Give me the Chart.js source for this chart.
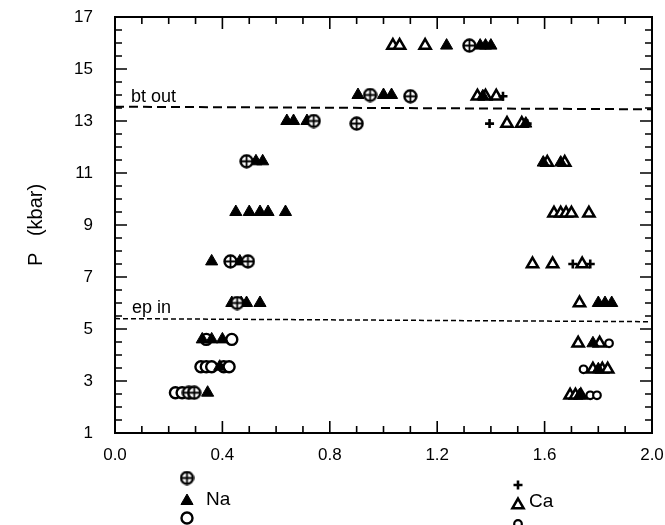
<!DOCTYPE html>
<html>
<head>
<meta charset="utf-8">
<script src="https://cdn.jsdelivr.net/npm/chart.js@4.4.1/dist/chart.umd.min.js"></script>
<style>
  html, body { margin: 0; background: #fff; }
  #wrap { width: 665px; height: 525px; }
</style>
</head>
<body>
<div id="wrap"><canvas id="chart"></canvas></div>
<script>
// ---- data: [x, P(kbar)] ----
const naCirclePlus = [[1.32, 15.9], [0.95, 14.0], [1.10, 13.95], [0.74, 13.0], [0.90, 12.9],
  [0.49, 11.45], [0.43, 7.6], [0.495, 7.6], [0.455, 6.0], [0.275, 2.55], [0.295, 2.55]]
const naTriangle = [
  [1.235, 15.9], [1.36, 15.9], [1.38, 15.9], [1.40, 15.9],
  [0.905, 14.0], [1.0, 14.0], [1.03, 14.0],
  [0.64, 13.0], [0.665, 13.0], [0.715, 13.0],
  [0.525, 11.45], [0.55, 11.45],
  [0.45, 9.5], [0.50, 9.5], [0.54, 9.5], [0.57, 9.5], [0.635, 9.5],
  [0.36, 7.6], [0.465, 7.6],
  [0.435, 6.0], [0.47, 6.0], [0.49, 6.0], [0.54, 6.0],
  [0.325, 4.6], [0.36, 4.6], [0.40, 4.6],
  [0.39, 3.55], [0.345, 2.55],
  [1.37, 13.95], [1.53, 12.9], [1.595, 11.4], [1.66, 11.4],
  [1.80, 6.0], [1.825, 6.0], [1.85, 6.0], [1.78, 4.45], [1.80, 3.45], [1.73, 2.45]
]
const naCircle = [[0.34, 4.6], [0.435, 4.6], [0.32, 3.55], [0.34, 3.55], [0.36, 3.55],
  [0.405, 3.55], [0.425, 3.55], [0.225, 2.55], [0.25, 2.55]]
const caPlus = [[1.445, 13.95], [1.395, 12.9], [1.535, 12.9], [1.705, 7.5], [1.77, 7.5]]
const caTriangle = [
  [1.035, 15.9], [1.06, 15.9], [1.155, 15.9],
  [1.35, 13.95], [1.38, 13.95], [1.42, 13.95],
  [1.46, 12.9], [1.515, 12.9],
  [1.61, 11.4], [1.675, 11.4],
  [1.635, 9.45], [1.66, 9.45], [1.68, 9.45], [1.70, 9.45], [1.765, 9.45],
  [1.555, 7.5], [1.63, 7.5], [1.74, 7.5],
  [1.73, 6.0],
  [1.725, 4.45], [1.805, 4.45],
  [1.78, 3.45], [1.815, 3.45], [1.835, 3.45],
  [1.695, 2.45], [1.715, 2.45], [1.735, 2.45]
]
const caCircle = [[1.84, 4.45], [1.745, 3.45], [1.77, 2.45], [1.795, 2.45]]

// boundary lines
const btOut = [[0, 13.55], [2, 13.45]]
const epIn = [[0, 5.4], [2, 5.28]]
const boundaryLabels = ['bt out', 'ep in']

// axes
const xRange = [0, 2]
const yRange = [1, 17]
const xMajorStep = 0.4
const xMinorStep = 0.1
const yMajorStep = 2
const yMinorStep = 0.5

const FONT = "'Liberation Sans', Arial, sans-serif"
const pts = arr => arr.map(([x, y]) => ({ x, y }))

// circle with a cross inside
function circlePlusImage() {
  const c = document.createElement('canvas')
  c.width = 15
  c.height = 15
  const g = c.getContext('2d')
  g.fillStyle = '#fff'
  g.strokeStyle = '#000'
  g.lineWidth = 2.4
  g.beginPath()
  g.arc(7.5, 7.5, 6, 0, Math.PI * 2)
  g.fill()
  g.stroke()
  g.lineWidth = 1.8
  g.beginPath()
  g.moveTo(2, 7.5); g.lineTo(13, 7.5)
  g.moveTo(7.5, 2); g.lineTo(7.5, 13)
  g.stroke()
  return c
}
const circlePlus = circlePlusImage()

const markerStyles = {
  circlePlus: { pointStyle: circlePlus, radius: 7, borderWidth: 0, fill: '#000' },
  triangle: { pointStyle: 'triangle', radius: 7, borderWidth: 1, fill: '#000' },
  circle: { pointStyle: 'circle', radius: 5.5, borderWidth: 2.4, fill: '#fff' },
  plus: { pointStyle: 'cross', radius: 4.5, borderWidth: 2.6, fill: '#000' },
  openTriangle: { pointStyle: 'triangle', radius: 6.5, borderWidth: 2.5, fill: '#fff' },
  smallCircle: { pointStyle: 'circle', radius: 3.8, borderWidth: 2.2, fill: '#fff' }
}

function scatterSet(label, data, style) {
  const s = markerStyles[style]
  return {
    label,
    data: pts(data),
    pointStyle: s.pointStyle,
    pointRadius: s.radius,
    pointBorderWidth: s.borderWidth,
    pointBackgroundColor: s.fill,
    pointBorderColor: '#000',
    showLine: false
  }
}

function lineSet(label, data, dash, width) {
  return {
    label,
    type: 'line',
    data: pts(data),
    borderColor: '#000',
    borderWidth: width,
    borderDash: dash,
    pointRadius: 0,
    fill: false
  }
}

// frame with inward ticks on all four sides
const framePlugin = {
  id: 'frame',
  afterDraw(chart) {
    const { ctx, chartArea: a, scales } = chart
    ctx.save()
    ctx.strokeStyle = '#000'
    ctx.lineWidth = 2
    ctx.strokeRect(a.left, a.top, a.right - a.left, a.bottom - a.top)
    ctx.lineWidth = 1.6
    ctx.beginPath()
    const xs = scales.x
    const nx = Math.round((xRange[1] - xRange[0]) / xMinorStep)
    for (let i = 1; i < nx; i++) {
      const v = xRange[0] + i * xMinorStep
      const major = Math.abs(v / xMajorStep - Math.round(v / xMajorStep)) < 1e-6
      const len = major ? 12 : 7
      const px = xs.getPixelForValue(v)
      ctx.moveTo(px, a.bottom); ctx.lineTo(px, a.bottom - len)
      ctx.moveTo(px, a.top); ctx.lineTo(px, a.top + len)
    }
    const ys = scales.y
    const ny = Math.round((yRange[1] - yRange[0]) / yMinorStep)
    for (let i = 1; i < ny; i++) {
      const v = yRange[0] + i * yMinorStep
      const k = (v - yRange[0]) / yMajorStep
      const major = Math.abs(k - Math.round(k)) < 1e-6
      const len = major ? 12 : 7
      const py = ys.getPixelForValue(v)
      ctx.moveTo(a.left, py); ctx.lineTo(a.left + len, py)
      ctx.moveTo(a.right, py); ctx.lineTo(a.right - len, py)
    }
    ctx.stroke()

    // boundary labels
    ctx.fillStyle = '#000'
    ctx.font = '18px ' + FONT
    ctx.textAlign = 'left'
    ctx.textBaseline = 'alphabetic'
    ctx.fillText(boundaryLabels[0], a.left + 16, ys.getPixelForValue(btOut[0][1]) - 5)
    ctx.fillText(boundaryLabels[1], a.left + 17, ys.getPixelForValue(epIn[0][1]) - 6)

    // legend under the axis
    const draw = (style, x, y) => {
      const s = markerStyles[style]
      ctx.fillStyle = s.fill
      ctx.strokeStyle = '#000'
      ctx.lineWidth = s.borderWidth
      Chart.helpers.drawPoint(ctx, { pointStyle: s.pointStyle, radius: s.radius, borderWidth: s.borderWidth, rotation: 0 }, x, y)
    }
    draw('circlePlus', 187, 478)
    draw('triangle', 187, 501)
    draw('circle', 187, 518)
    draw('plus', 518, 485)
    draw('openTriangle', 518, 505)
    draw('smallCircle', 518, 524)
    ctx.fillStyle = '#000'
    ctx.font = '19px ' + FONT
    ctx.textBaseline = 'middle'
    ctx.fillText('Na', 206, 500)
    ctx.fillText('Ca', 529, 502)
    ctx.restore()
  }
}

new Chart(document.getElementById('chart'), {
  type: 'scatter',
  data: {
    datasets: [
      lineSet('bt out', btOut, [9, 5], 2),
      lineSet('ep in', epIn, [5, 3], 1.5),
      scatterSet('Na circle-plus', naCirclePlus, 'circlePlus'),
      scatterSet('Na', naTriangle, 'triangle'),
      scatterSet('Na circle', naCircle, 'circle'),
      scatterSet('Ca plus', caPlus, 'plus'),
      scatterSet('Ca', caTriangle, 'openTriangle'),
      scatterSet('Ca circle', caCircle, 'smallCircle')
    ]
  },
  options: {
    responsive: true,
    maintainAspectRatio: false,
    animation: false,
    devicePixelRatio: 1,
    events: [],
    layout: { padding: 0 },
    plugins: {
      legend: { display: false },
      tooltip: { enabled: false }
    },
    scales: {
      x: {
        type: 'linear',
        min: xRange[0],
        max: xRange[1],
        grid: { display: false, drawTicks: false },
        border: { display: false },
        ticks: {
          stepSize: xMajorStep,
          color: '#000',
          padding: 12,
          font: { family: FONT, size: 17 },
          callback: v => v.toFixed(1)
        },
        afterFit: s => {
          s.height = 92
          s.paddingLeft = 0
          s.paddingRight = 13
        }
      },
      y: {
        type: 'linear',
        min: yRange[0],
        max: yRange[1],
        grid: { display: false, drawTicks: false },
        border: { display: false },
        ticks: {
          stepSize: yMajorStep,
          color: '#000',
          padding: 22,
          font: { family: FONT, size: 17 }
        },
        title: {
          display: true,
          text: 'P   (kbar)',
          color: '#000',
          font: { family: FONT, size: 20 },
          padding: { top: 24, bottom: 0 }
        },
        afterFit: s => {
          s.width = 115
          s.paddingTop = 17
          s.paddingBottom = 0
        }
      }
    }
  },
  plugins: [framePlugin]
})
</script>
</body>
</html>
